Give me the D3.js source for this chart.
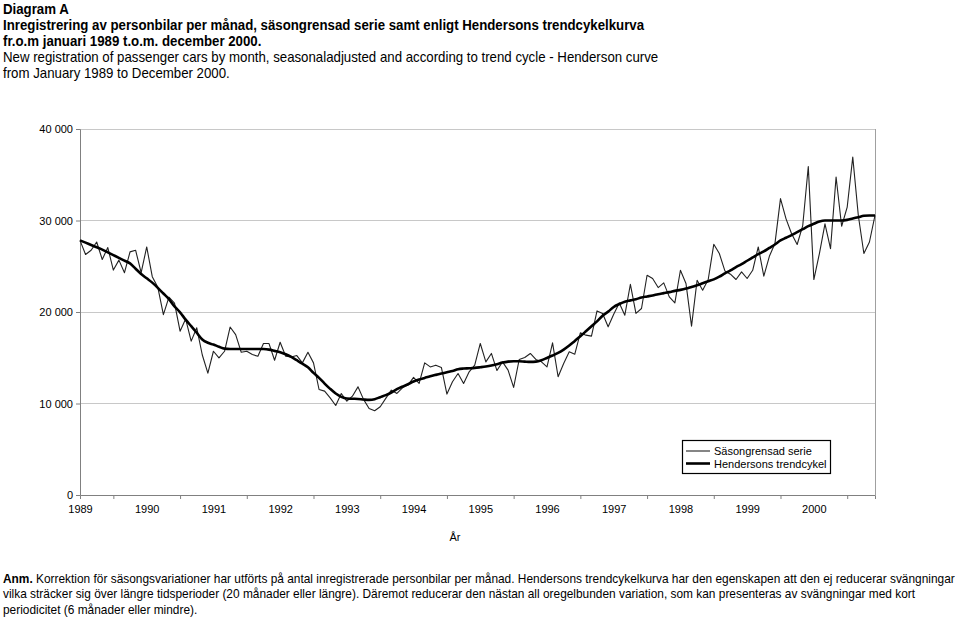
<!DOCTYPE html>
<html><head><meta charset="utf-8">
<script src="https://cdn.jsdelivr.net/npm/d3@7"></script>
<style>
body{margin:0;background:#fff}
text{font-family:"Liberation Sans",Arial,Helvetica,sans-serif;fill:#000}
</style>
</head><body>
<svg id="c" width="960" height="618"></svg>
<script>
const years = [1989,1990,1991,1992,1993,1994,1995,1996,1997,1998,1999,2000];
const yTicks = [0,10000,20000,30000,40000];
const seriesNames = ["Säsongrensad serie","Hendersons trendcykel"];
// Seasonally adjusted series, Jan 1989 - Dec 2000
const seasonal = [
27830,26280,26750,27650,25740,27040,24580,25670,24300,26570,26750,24300,
27110,23860,22700,19710,21620,20970,17900,19240,16820,18270,15300,13320,
15710,14980,15710,18360,17530,15600,15710,15350,15160,16550,16550,14730,
16690,15160,15090,15240,14440,15600,14440,11530,11350,10620,9780,11090,
10250,10800,11820,10450,9460,9200,9640,10560,11460,11100,11710,12010,
12850,12190,14440,14000,14190,13940,11030,12370,13280,12190,13460,14190,
16560,14550,15470,13600,14550,13650,11760,14810,15030,15470,14810,14550,
14010,16630,12920,14380,15650,15390,17720,17470,17360,20120,19830,18380,
19760,20990,19650,23030,19850,20380,24020,23660,22670,23180,21650,20990,
24560,23110,18450,23470,22380,23550,27400,26390,24490,24130,23550,24380,
23660,24560,27110,23910,26090,27480,32390,30180,28550,27380,29450,35900,
23550,26390,29640,26930,34750,29370,31470,36930,30550,26390,27650,30550];
// Henderson trend cycle
const trend = [
27830,27580,27320,27070,26820,26520,26220,25920,25610,25310,24730,24150,
23680,23210,22640,22020,21410,20610,19960,19170,18450,17730,17000,16640,
16440,16200,16000,15960,15960,15960,15960,15960,15960,15950,15890,15750,
15600,15380,15090,14730,14360,13960,13350,12800,12180,11600,11090,10730,
10550,10520,10500,10440,10400,10470,10690,10910,11200,11560,11850,12110,
12400,12620,12800,12980,13130,13270,13420,13560,13750,13820,13850,13890,
13960,14040,14150,14300,14470,14580,14620,14620,14580,14550,14580,14730,
14980,15240,15530,15890,16330,16840,17350,17890,18440,18980,19600,20040,
20550,20870,21130,21270,21400,21590,21700,21810,21950,22060,22170,22310,
22420,22560,22740,22920,23140,23360,23570,23860,24220,24550,24910,25230,
25600,25960,26320,26620,27000,27380,27820,28110,28400,28730,29050,29380,
29640,29890,30000,30000,30000,30000,30070,30220,30360,30510,30550,30550];
const titleLines = [
 {t:"Diagram A", b:true},
 {t:"Inregistrering av personbilar per månad, säsongrensad serie samt enligt Hendersons trendcykelkurva", b:true},
 {t:"fr.o.m januari 1989 t.o.m. december 2000.", b:true},
 {t:"New registration of passenger cars by month, seasonaladjusted and according to trend cycle - Henderson curve", b:false},
 {t:"from January 1989 to December 2000.", b:false}];
const noteLines = [
 "Korrektion för säsongsvariationer har utförts på antal inregistrerade personbilar per månad. Hendersons trendcykelkurva har den egenskapen att den ej reducerar svängningar",
 "vilka sträcker sig över längre tidsperioder (20 månader eller längre). Däremot reducerar den nästan all oregelbunden variation, som kan presenteras av svängningar med kort",
 "periodicitet (6 månader eller mindre)."];

const svg = d3.select("#c");
const L=80, R=875, T=129, B=495;
const x = d3.scaleLinear().domain([0, seasonal.length-1]).range([L,R]);
const y = d3.scaleLinear().domain([0,40000]).range([B,T]);

// Title
const tg = svg.append("g");
const tt = titleLines.map((d,i)=> tg.append("text").attr("x",0).attr("y",0)
   .attr("font-size",14.5).attr("font-weight",d.b?"bold":"normal").text(d.t));
const ts = 642 / tt[1].node().getComputedTextLength();
tt.forEach((s,i)=> s.attr("transform",`translate(3,${13.5+i*16}) scale(${ts},1)`));

// gridlines
svg.append("g").selectAll("line").data(yTicks.filter(d=>d>0)).join("line")
  .attr("x1",L).attr("x2",R).attr("y1",d=>y(d)).attr("y2",d=>y(d))
  .attr("stroke","#c8c8c8").attr("stroke-width",1).attr("shape-rendering","crispEdges");
// right border
svg.append("line").attr("x1",R).attr("x2",R).attr("y1",T).attr("y2",B)
  .attr("stroke","#a0a0a0").attr("shape-rendering","crispEdges");

// Y axis
const ya = svg.append("g").attr("transform",`translate(${L},0)`)
  .call(d3.axisLeft(y).tickValues(yTicks).tickSize(4).tickPadding(3)
   .tickFormat(d=> d3.format(",")(d).replace(/,/g," ")));
ya.select(".domain").attr("stroke","#808080");
ya.selectAll(".tick line").attr("stroke","#808080");
ya.selectAll("text").attr("font-size",11).attr("font-family","Liberation Sans, Arial, sans-serif");

// X axis: tick marks at mid-year, labels at January
const tickIdx = years.map((d,i)=> i*12+6);
const xa = svg.append("g").attr("transform",`translate(0,${B})`)
  .call(d3.axisBottom(x).tickValues(tickIdx).tickSize(4).tickFormat(""));
xa.select(".domain").attr("stroke","#808080");
xa.selectAll(".tick line").attr("stroke","#808080");
const xl = svg.append("g").attr("transform",`translate(0,${B})`)
  .call(d3.axisBottom(x).tickValues(years.map((d,i)=>i*12)).tickSize(0).tickPadding(10)
   .tickFormat((d,i)=> years[i]));
xl.select(".domain").remove();
xl.selectAll("text").attr("font-size",11).attr("font-family","Liberation Sans, Arial, sans-serif");

svg.append("text").attr("x",455).attr("y",541).attr("text-anchor","middle")
  .attr("font-size",11).text("År");

// lines
const line = d3.line().x((d,i)=>x(i)).y(d=>y(d));
svg.append("path").datum(seasonal).attr("d",line).attr("fill","none")
  .attr("stroke","#222").attr("stroke-width",1.1).attr("stroke-linejoin","round");
svg.append("path").datum(trend).attr("d",line.curve(d3.curveMonotoneX)).attr("fill","none")
  .attr("stroke","#000").attr("stroke-width",2.6).attr("stroke-linejoin","round");

// legend
const lg = svg.append("g");
lg.append("rect").attr("x",682.5).attr("y",440.5).attr("width",148).attr("height",33)
  .attr("fill","#fff").attr("stroke","#000").attr("stroke-width",1.2);
seriesNames.forEach((n,i)=>{
  const yy = 451 + i*12.5;
  lg.append("line").attr("x1",686).attr("x2",710).attr("y1",yy).attr("y2",yy)
    .attr("stroke",i? "#000":"#222").attr("stroke-width",i?2.6:1.1);
  lg.append("text").attr("x",714).attr("y",yy+4).attr("font-size",11).text(n);
});

// footnote
const ng = svg.append("g");
const n0 = ng.append("text").attr("font-size",13.5);
n0.append("tspan").attr("font-weight","bold").text("Anm.");
n0.append("tspan").text(" "+noteLines[0]);
const n1 = ng.append("text").attr("font-size",13.5).text(noteLines[1]);
const n2 = ng.append("text").attr("font-size",13.5).text(noteLines[2]);
const ns = 952 / n0.node().getComputedTextLength();
[n0,n1,n2].forEach((s,i)=> s.attr("transform",`translate(3,${582.5+i*15.5}) scale(${ns},1)`));
</script>
</body></html>
